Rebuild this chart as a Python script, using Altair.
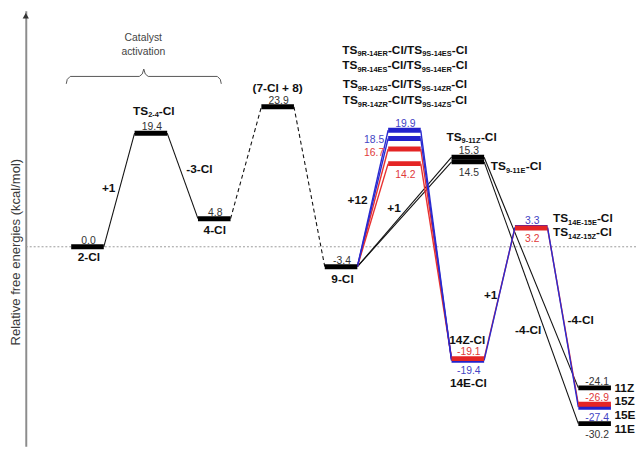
import altair as alt
import pandas as pd

# ---------------- data ----------------
slots    = [0, 1, 2, 3, 4, 5, 5, 5, 5, 6, 6, 6, 6, 7, 7, 8, 8, 8, 8]
energies = [0.0, 19.4, 4.8, 23.9, -3.4, 19.9, 18.5, 16.7, 14.2, 15.3, 14.5,
            -19.4, -19.1, 3.3, 3.2, -24.1, -26.9, -27.4, -30.2]
series   = ["k", "k", "k", "k", "k", "b", "b", "r", "r", "k", "k",
            "b", "r", "b", "r", "k", "r", "b", "k"]
value_pos = ["above", "above", "above", "above", "above", "above", "left", "left", "below",
             "above", "below", "below", "above", "above", "below", "above", "above", "below", "below"]

path_from = [0, 1, 2, 3, 4, 4, 4, 4, 4, 4, 5, 6, 7, 8, 9, 10, 11, 12, 13, 14]
path_to   = [1, 2, 3, 4, 5, 6, 7, 8, 9, 10, 11, 11, 12, 12, 15, 18, 13, 14, 17, 16]
path_dashed = [False, False, True, True] + [False] * 16

# name labels: markup ("_" toggles subscript), level index, align, dx px, dy px
name_labels = [
    ("2-Cl", 0, "center", 1.5, 10),
    ("TS_2-4_-Cl", 1, "center", 3, -23),
    ("4-Cl", 2, "center", 0.5, 11.5),
    ("(7-Cl + 8)", 3, "center", 0, -19.5),
    ("9-Cl", 4, "center", 1.5, 12),
    ("TS_9R-14ER_-Cl/TS_9S-14ES_-Cl", 5, "center", 0.5, -82),
    ("TS_9R-14ES_-Cl/TS_9S-14ER_-Cl", 5, "center", 0.5, -66),
    ("TS_9R-14ZS_-Cl/TS_9S-14ZR_-Cl", 5, "center", 0.5, -47),
    ("TS_9R-14ZR_-Cl/TS_9S-14ZS_-Cl", 5, "center", 0.5, -31),
    ("TS_9-11Z_-Cl", 9, "left", -21.7, -21),
    ("TS_9-11E_-Cl", 10, "left", 23.3, 4),
    ("14Z-Cl", 12, "center", -0.5, -19.5),
    ("14E-Cl", 11, "center", 0.5, 22.5),
    ("TS_14E-15E_-Cl", 13, "left", 22, -10),
    ("TS_14Z-15Z_-Cl", 14, "left", 22, 4),
    ("11Z", 15, "left", 20, 0),
    ("15Z", 16, "left", 20, -3.5),
    ("15E", 17, "left", 20, 7.5),
    ("11E", 18, "left", 20, 5),
]
# step labels: text, path index, dx px, dy px (from path midpoint)
step_labels = [
    ("+1", 0, -10.6, -2.5),
    ("-3-Cl", 1, 17, -7),
    ("+12", 4, -15.4, 1),
    ("+1", 8, -10.5, -4),
    ("+1", 16, -9, 1),
    ("-4-Cl", 15, -3, 37.5),
    ("-4-Cl", 18, 18, 2.5),
]
bracket_text = ["Catalyst", "activation"]
axis_title = "Relative free energies (kcal/mol)"

# ---------------- geometry / styles ----------------
FONT = "Liberation Sans"
W, H = 618, 441
PX_PER_SLOT = 64.2
PX_PER_E = 5.93
X_DOM = [-62.5 / PX_PER_SLOT, (W - 62.5) / PX_PER_SLOT]
Y_DOM = [(239 - H) / PX_PER_E, 239 / PX_PER_E]
SX = 1 / PX_PER_SLOT
SY = 1 / PX_PER_E
HALF = 16.5 * SX

COL_BAR = {"k": "#000000", "b": "#2222cc", "r": "#e42525"}
COL_LINE = {"k": "#111111", "b": "#2a2ad0", "r": "#e83030"}
COL_NUM = {"k": "#333333", "b": "#4444c4", "r": "#e03a3a"}

BOLD_W = {' ': 278, '(': 333, ')': 333, '+': 584, '-': 333, '.': 278, '/': 278,
          'C': 722, 'E': 667, 'R': 722, 'S': 667, 'T': 611, 'Z': 611, 'l': 278}
REG_W = {'-': 333, '.': 278}


def text_w(s, size, table):
    return sum(table.get(c, 556) for c in s) * size / 1000.0


xs = alt.Scale(domain=X_DOM, nice=False, zero=False)
ys = alt.Scale(domain=Y_DOM, nice=False, zero=False)
yax = alt.Axis(domain=True, domainColor="#8c8c8c", domainWidth=2, ticks=False, labels=False,
               grid=False, title=axis_title, titleFont=FONT, titleFontSize=13.2,
               titleFontWeight="normal", titleColor="#3a3a3a", titleAngle=270,
               titleX=-10.5, titleY=244, titleAlign="center", titleBaseline="middle")


def X(f):
    return alt.X(f, scale=xs, axis=None)


def Y(f):
    return alt.Y(f, scale=ys, axis=yax)


# ---------------- tables ----------------
levels = pd.DataFrame({
    "lo": [s - HALF for s in slots],
    "hi": [s + HALF for s in slots],
    "e": energies,
    "col": [COL_BAR[c] for c in series],
    "order": [0 if c == "k" else (1 if c == "b" else 2) for c in series],
}).sort_values("order", kind="stable")

paths = []
for i, (a, b) in enumerate(zip(path_from, path_to)):
    c = series[a] if series[a] != "k" else series[b]
    paths.append({
        "x1": slots[a] + HALF, "y1": energies[a],
        "x2": slots[b] - HALF, "y2": energies[b],
        "col": COL_LINE[c], "w": 1.1 if c == "k" else 1.4,
        "dashed": path_dashed[i], "order": {"k": 0, "r": 1, "b": 2}[c],
    })
paths = pd.DataFrame(paths).sort_values("order", kind="stable")

# numeric labels (regular)
num_rows = []
for s, e, c, p in zip(slots, energies, series, value_pos):
    txt = f"{e:.1f}"
    size = 10.5
    w = text_w(txt, size, REG_W)
    if p == "above":
        left, cy = 1 - w / 2, -7
    elif p == "below":
        left, cy = 1 - w / 2, 10.5
    else:
        left, cy = -16.5 - 4 - w, 1 if e > 17.5 else 3
    if s == 8:
        left += 1.5
    num_rows.append({"x": s + left * SX, "y": e - (cy + 3.8) * SY, "t": txt,
                     "col": COL_NUM[c], "size": size})
num_df = pd.DataFrame(num_rows)

# bold labels with subscripts
MAIN, SUB = 12, 7.5
bold_rows = []


def add_markup(markup, ax, ay, align):
    parts = markup.split("_")
    widths = [text_w(p, SUB if i % 2 else MAIN, BOLD_W) for i, p in enumerate(parts)]
    total = sum(widths)
    cur = {"left": 0, "center": -total / 2, "right": -total}[align]
    for i, p in enumerate(parts):
        sub = i % 2 == 1
        if p:
            base = 4.3 + (2.8 if sub else 0)
            bold_rows.append({"x": ax + cur * SX, "y": ay - base * SY, "t": p,
                              "size": SUB if sub else MAIN})
        cur += widths[i]


for markup, li, align, dx, dy in name_labels:
    add_markup(markup, slots[li] + dx * SX, energies[li] - dy * SY, align)
for txt, pi, dx, dy in step_labels:
    a, b = path_from[pi], path_to[pi]
    mx = (slots[a] + HALF + slots[b] - HALF) / 2
    my = (energies[a] + energies[b]) / 2
    add_markup(txt, mx + dx * SX, my - dy * SY, "center")
bold_df = pd.DataFrame(bold_rows)


# bracket (page pixel outline converted to data coordinates)
def pg(px, py):
    return (px - 88.5) / PX_PER_SLOT, (247 - py) / PX_PER_E


br_pts = [(67, 82), (68, 77.5), (71, 74.5), (141, 74.5), (144, 72), (145.5, 67), (147, 72),
          (150, 74.5), (220, 74.5), (223, 77.5), (224, 82)]
bracket = pd.DataFrame([{"x": pg(*p)[0], "y": pg(*p)[1], "o": i} for i, p in enumerate(br_pts)])
cat_df = pd.DataFrame([{"x": pg(145, 36)[0], "y": pg(145, 36)[1], "t": bracket_text[0]},
                       {"x": pg(145, 50)[0], "y": pg(145, 50)[1], "t": bracket_text[1]}])
arrow_df = pd.DataFrame([{"x": X_DOM[0], "y": pg(26, 13)[1]}])

# ---------------- layers ----------------
zero = alt.Chart(pd.DataFrame({"e": [0.0]})).mark_rule(
    color="#9a9a9a", strokeDash=[2, 2], strokeWidth=1
).encode(y=Y("e:Q"))


def path_layer(df, dash):
    m = alt.Chart(df).mark_rule(strokeDash=[4, 3]) if dash else alt.Chart(df).mark_rule()
    return m.encode(
        x=X("x1:Q"), x2="x2:Q", y=Y("y1:Q"), y2="y2:Q",
        color=alt.Color("col:N", scale=None),
        strokeWidth=alt.StrokeWidth("w:Q", scale=None),
    )


solid = path_layer(paths[~paths["dashed"]], False)
dashed = path_layer(paths[paths["dashed"]], True)

bars = alt.Chart(levels).mark_rule(strokeWidth=5).encode(
    x=X("lo:Q"), x2="hi:Q", y=Y("e:Q"), color=alt.Color("col:N", scale=None),
)

nums = alt.Chart(num_df).mark_text(font=FONT, align="left", baseline="alphabetic").encode(
    x=X("x:Q"), y=Y("y:Q"), text="t:N",
    color=alt.Color("col:N", scale=None), size=alt.Size("size:Q", scale=None),
)

bolds = alt.Chart(bold_df).mark_text(font=FONT, fontWeight="bold", align="left",
                                     baseline="alphabetic", color="#111111").encode(
    x=X("x:Q"), y=Y("y:Q"), text="t:N", size=alt.Size("size:Q", scale=None),
)

br = alt.Chart(bracket).mark_line(color="#555555", strokeWidth=1).encode(
    x=X("x:Q"), y=Y("y:Q"), order="o:Q"
)
cat = alt.Chart(cat_df).mark_text(font=FONT, fontSize=10.5, color="#444444",
                                  align="center", baseline="middle").encode(
    x=X("x:Q"), y=Y("y:Q"), text="t:N"
)

arrow = alt.Chart(arrow_df).mark_point(
    shape="triangle-up", filled=True, size=40, color="#333333", opacity=1
).encode(x=X("x:Q"), y=Y("y:Q"))

chart = alt.layer(zero, solid, dashed, bars, nums, bolds, br, cat, arrow).properties(
    width=W, height=H,
    autosize=alt.AutoSizeParams(type="none"),
    padding={"left": 18, "top": 0, "right": 0, "bottom": 0},
).configure_view(stroke=None)

chart.save("out.html", embed_options={"renderer": "svg", "actions": False})
